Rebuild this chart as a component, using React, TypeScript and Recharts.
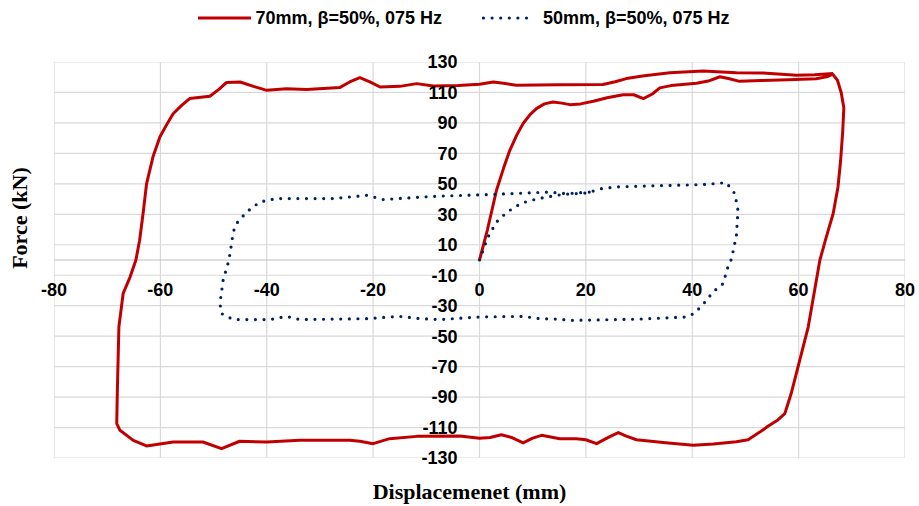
import {
  LineChart, Line, XAxis, YAxis, ReferenceLine, ReferenceDot, Legend, Label,
} from 'recharts'

const SANS = '"Liberation Sans", Arial, sans-serif'
const SERIF = '"Liberation Serif", "Times New Roman", serif'

const xTicks = [-80, -60, -40, -20, 0, 20, 40, 60, 80]
const yTicks = [130, 110, 90, 70, 50, 30, 10, -10, -30, -50, -70, -90, -110, -130]
const seriesNames = ['70mm, β=50%, 075 Hz', '50mm, β=50%, 075 Hz']

// 70 mm loop in drawing order
const disp70 = [
  0, 1.5, 3.2, 4.5, 5.7, 7, 8.2, 9.5, 10.7, 12.2, 13.8, 15.5, 17, 19, 21.4, 24, 27, 29, 30.8, 32.5,
  33.9, 36, 40.8, 43, 45.2, 47, 48.9, 53, 58, 63.3, 65.5, 66.4,
  67.3, 68, 68.5, 68.3, 67.9, 67.4, 66.5, 65.2, 64, 63, 61.8, 60.2, 58.6, 57.4, 56.1, 54.3, 52.7, 50.5,
  48.3, 44, 40.2, 35, 29.5, 27.5, 26.1, 24.5, 22, 20, 18.2, 15.1, 11.65, 10, 8.2, 6, 4.1, 2, 0,
  -3.7, -11.8, -16.9, -20, -22.5, -24.4, -33.8, -40, -45.1, -48.5, -52, -57.6, -62.6, -65.1, -67.6,
  -68.2, -68.1, -67.8, -67, -65.7, -64.6, -63.9, -63.2, -62.6, -61.4, -60.1, -58.8, -57.6, -56, -54.5,
  -52, -50.7, -49, -47.6, -45, -42.5, -40, -36.3, -32.5, -26.3, -24.4, -22.5, -20.6, -18.7, -15,
  -11.8, -8.7, -4, 0, 2.6, 4.5, 6.9, 15, 23.2, 25.5, 27.6, 31, 35.8, 42, 48.3, 53.3, 59.6, 63, 66.5,
]
const force70 = [
  0, 20, 45.8, 60, 72, 82, 89.6, 95.5, 99.4, 102.5, 103.7, 103, 102, 102.5, 104.2, 106.5, 108.5, 108.5, 106, 109,
  113, 114.5, 116, 117.5, 120.3, 119, 117.3, 117.8, 118.3, 119, 120.5, 122,
  118, 110, 100, 85, 65.5, 48, 30.5, 15, 0, -20, -44, -65.9, -87.7, -100.9, -105, -109, -113, -118,
  -119.3, -120.8, -121.7, -120, -118, -115.5, -113.3, -116, -120.6, -118, -117.3, -117.3, -115.1, -117, -120.1, -116.5, -114.7, -116.5, -117,
  -115.5, -115.8, -117.3, -120.6, -119, -118.4, -118.4, -119.5, -119, -123.9, -119.5, -119.5, -122.1, -118.4, -111.8,
  -107.4, -87.7, -44, -22, -11.2, 0, 13, 32, 50, 67.6, 80.8, 89, 96, 101.5, 106,
  107, 107.5, 112, 116.5, 116.9, 114, 111.4, 112.5, 111.9, 113.2, 116.9, 119.7, 117, 113.6, 114,
  115.8, 114.3, 114.5, 115.4, 116.9, 116, 114.7, 115, 115.2, 117, 119.1, 121, 123, 124.1, 123, 122.8, 121.3, 121.7, 122.4,
]

// 50 mm loop
const disp50 = [
  0, 1.6, 3.2, 5.2, 7.9, 11, 15.7, 20.1, 23, 26, 29.5, 36, 42, 46.4, 48, 48.6, 48.3, 47.4, 46.7, 45.8,
  43.9, 42.4, 40.5, 38.9, 30, 26.4, 17.3, 14, 11.3, 8.2, 0, -7.5, -11.2, -15, -21.2, -33.8, -36.3, -39.4,
  -46.3, -48.5, -48.8, -48.2, -47.3, -46.9, -46.3, -45.7, -43.8, -41.3, -38.2, -27.5, -21.2, -18.1, -8.7,
  1.3, 12.9, 16.4, 20.7,
]
const force50 = [
  0, 15.1, 25, 31.5, 37.4, 40.3, 43.1, 44, 46.9, 48, 48.4, 49, 49.5, 50.8, 43.6, 32.6, 16.2, 0.9, -4.6, -15.5,
  -21, -27.6, -34.8, -37.4, -38.8, -39.1, -39.6, -38.7, -38.5, -37, -37.4, -39.1, -38.5, -37, -38.5, -39.1, -37, -39.1,
  -39.1, -35.2, -28.6, -13.3, -2.4, 4.2, 18.4, 23.9, 31.5, 38.1, 40.3, 40.3, 42.5, 39.7, 41.8,
  42.9, 44.6, 43.5, 44.6,
]

const toPoints = (xs: number[], ys: number[]) => xs.map((x, i) => ({ x, y: ys[i] }))
const loop70 = toPoints(disp70, force70)
const loop50 = toPoints(disp50, force50)

// grid drawn as broken polylines (null = gap) so they go through the same scales as the loops
const xMin = xTicks[0], xMax = xTicks[xTicks.length - 1]
const yMax = yTicks[0], yMin = yTicks[yTicks.length - 1]
const gridV = xTicks.flatMap(v => [{ x: v, y: yMin }, { x: v, y: yMax }, { x: v, y: null }])
const gridH = yTicks.flatMap(v => [{ x: xMin, y: v }, { x: xMax, y: v }, { x: xMax, y: null }])

const tickLabel = { fill: '#000', fontSize: 18, fontWeight: 700, fontFamily: SANS }
const GRID = '#d9d9d9'

function LegendContent({ payload }: any) {
  const items = (payload || [])
    .filter((e: any) => seriesNames.includes(e.value))
    .sort((a: any, b: any) => seriesNames.indexOf(a.value) - seriesNames.indexOf(b.value))
  return (
    <div style={{
      height: 36, display: 'flex', justifyContent: 'center', alignItems: 'center', paddingLeft: 9,
      gap: 40, fontFamily: SANS, fontWeight: 700, fontSize: 18, color: '#000',
    }}>
      {items.map((e: any) => {
        const dotted = !!e.payload?.strokeDasharray
        return (
          <div key={e.value} style={{ display: 'flex', alignItems: 'center', gap: dotted ? 8 : 4 }}>
            <svg width={53} height={8}>
              {dotted
                ? <line x1={1.5} y1={4} x2={53} y2={4} stroke={e.color} strokeWidth={3.2} strokeDasharray="0 8.6" strokeLinecap="round" />
                : <line x1={0} y1={4} x2={53} y2={4} stroke={e.color} strokeWidth={3} />}
            </svg>
            <span>{e.value}</span>
          </div>
        )
      })}
    </div>
  )
}

function ForceTitle({ viewBox }: any) {
  const x = viewBox.x - 25.5
  const y = viewBox.y + viewBox.height * 0.394
  return (
    <text x={x} y={y} transform={`rotate(-90 ${x} ${y})`} textAnchor="middle"
      fontFamily={SERIF} fontWeight={700} fontSize={22} fill="#000">
      Force (kN)
    </text>
  )
}

export default function App() {
  return (
    <div style={{ position: 'absolute', left: 0, top: 0, background: '#fff' }}>
      <LineChart width={919} height={506} margin={{ top: 26, right: 14, left: 53, bottom: 47 }}>
        <XAxis type="number" dataKey="x" domain={[-80, 80]} ticks={xTicks} interval={0} tick={false}
          tickLine={false} axisLine={false} height={1} allowDataOverflow>
          <Label value="Displacemenet (mm)" position="bottom" offset={24} dx={-10}
            fill="#000" fontSize={22} fontWeight={700} fontFamily={SERIF} />
        </XAxis>
        <YAxis type="number" dataKey="y" domain={[-130, 130]} ticks={yTicks} interval={0} tick={false}
          tickLine={false} axisLine={false} width={1} allowDataOverflow>
          <Label content={<ForceTitle />} />
        </YAxis>
        <Legend verticalAlign="top" content={<LegendContent />}
          wrapperStyle={{ top: 0, left: 0, width: 919, height: 36 }} />
        <Line data={gridV} dataKey="y" name="gridV" type="linear" stroke={GRID} strokeWidth={1.2}
          dot={false} activeDot={false} legendType="none" isAnimationActive={false} />
        <Line data={gridH} dataKey="y" name="gridH" type="linear" stroke={GRID} strokeWidth={1.2}
          dot={false} activeDot={false} legendType="none" isAnimationActive={false} />
        <ReferenceLine y={0} stroke="#bfbfbf" strokeWidth={1.2} />
        <Line data={loop70} dataKey="y" name={seriesNames[0]} type="linear" stroke="#C00000"
          strokeWidth={3} strokeLinejoin="round" dot={false} activeDot={false} isAnimationActive={false} />
        <Line data={loop50} dataKey="y" name={seriesNames[1]} type="linear" stroke="#002060"
          strokeWidth={3.2} strokeDasharray="0 8.6" strokeLinecap="round" dot={false} activeDot={false}
          isAnimationActive={false} />
        {xTicks.map(v => (
          <ReferenceDot key={'x' + v} x={v} y={0} r={0} fill="none" stroke="none" ifOverflow="visible"
            label={{ value: String(v), position: 'bottom', offset: 23, ...tickLabel }} />
        ))}
        {yTicks.map(v => (
          <ReferenceDot key={'y' + v} x={0} y={v} r={0} fill="none" stroke="none" ifOverflow="visible"
            label={{ value: String(v), position: 'left', offset: 22, ...tickLabel }} />
        ))}
      </LineChart>
    </div>
  )
}
